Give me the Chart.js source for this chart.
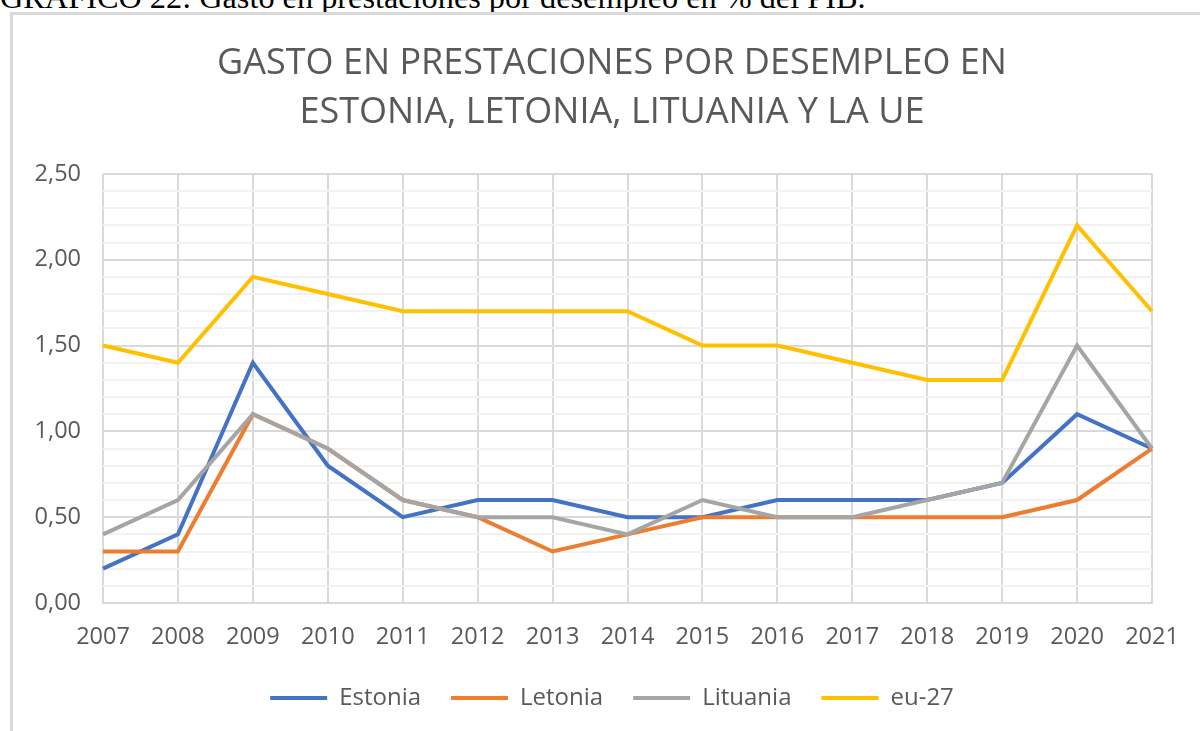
<!DOCTYPE html>
<html lang="es">
<head>
<meta charset="utf-8">
<title>Gasto en prestaciones por desempleo</title>
<script src="https://cdn.jsdelivr.net/npm/chart.js@4/dist/chart.umd.min.js"></script>
<style>
  html, body {
    margin: 0;
    padding: 0;
    background: #fff;
    overflow: hidden;
    width: 1200px;
    height: 731px;
  }
  .caption {
    position: absolute;
    left: 0;
    top: -19px;
    font-family: 'Liberation Serif', 'Times New Roman', serif;
    font-size: 32.3px;
    line-height: 32px;
    color: #000;
    white-space: nowrap;
  }
  .chart-box {
    position: absolute;
    left: 10px;
    top: 12px;
    width: 1204px;
    height: 740px;
    border: 3px solid #d9d9d9;
    box-sizing: border-box;
  }
  .chart-box canvas {
    display: block;
  }
</style>
</head>
<body>
<div class="caption">GRÁFICO 22: Gasto en prestaciones por desempleo en % del PIB.</div>
<div class="chart-box">
  <canvas id="chart" width="1198" height="734"></canvas>
</div>

<script>
const years = ['2007', '2008', '2009', '2010', '2011', '2012', '2013', '2014',
  '2015', '2016', '2017', '2018', '2019', '2020', '2021'];

const estonia  = [0.2, 0.4, 1.4, 0.8, 0.5, 0.6, 0.6, 0.5, 0.5, 0.6, 0.6, 0.6, 0.7, 1.1, 0.9];
const letonia  = [0.3, 0.3, 1.1, 0.9, 0.6, 0.5, 0.3, 0.4, 0.5, 0.5, 0.5, 0.5, 0.5, 0.6, 0.9];
const lituania = [0.4, 0.6, 1.1, 0.9, 0.6, 0.5, 0.5, 0.4, 0.6, 0.5, 0.5, 0.6, 0.7, 1.5, 0.9];
const eu27     = [1.5, 1.4, 1.9, 1.8, 1.7, 1.7, 1.7, 1.7, 1.5, 1.5, 1.4, 1.3, 1.3, 2.2, 1.7];

const seriesNames = ['Estonia', 'Letonia', 'Lituania', 'eu-27'];
const titleLines = ['GASTO EN PRESTACIONES POR DESEMPLEO EN', 'ESTONIA, LETONIA, LITUANIA Y LA UE'];

const TEXT = '#595959';
const FONT = "'Open Sans', 'Noto Sans', sans-serif";
const TICK_SIZE = 23.5;

function makeLine(label, data, color, order) {
  return {
    label: label,
    data: data,
    borderColor: color,
    backgroundColor: color,
    borderWidth: 4,
    pointRadius: 0,
    pointHoverRadius: 0,
    tension: 0,
    order: order, // excel draws the last series on top
  };
}

const isMajor = (v) => Math.round(v * 10) % 5 === 0;

new Chart(document.getElementById('chart'), {
  type: 'line',
  data: {
    labels: years,
    datasets: [
      makeLine(seriesNames[0], estonia, '#4472C4', 3),
      makeLine(seriesNames[1], letonia, '#ED7D31', 2),
      makeLine(seriesNames[2], lituania, '#A5A5A5', 1),
      makeLine(seriesNames[3], eu27, '#FFC000', 0),
    ],
  },
  options: {
    responsive: false,
    animation: false,
    layout: {
      padding: { left: 0, top: 0, right: 0, bottom: 29 },
    },
    plugins: {
      tooltip: { enabled: false },
      title: {
        display: true,
        text: titleLines,
        color: TEXT,
        font: { family: FONT, size: 36, weight: 'normal', lineHeight: 1.36 },
        padding: { top: 24.5, bottom: 36.5 },
      },
      legend: {
        position: 'bottom',
        labels: {
          color: TEXT,
          font: { family: FONT, size: 24 },
          boxWidth: 57,
          boxHeight: 4,
          padding: 30,
          sort: (a, b) => a.datasetIndex - b.datasetIndex,
          generateLabels(chart) {
            const items = Chart.defaults.plugins.legend.labels.generateLabels(chart);
            items.forEach((it) => {
              it.fillStyle = it.strokeStyle;
              it.lineWidth = 0;
            });
            return items;
          },
        },
      },
    },
    scales: {
      x: {
        offset: false,
        grid: {
          color: '#d9d9d9',
          lineWidth: 2,
          drawTicks: false,
        },
        border: { color: '#d9d9d9', width: 2 },
        ticks: {
          color: TEXT,
          font: { family: FONT, size: TICK_SIZE },
          padding: 20,
          maxRotation: 0,
          autoSkip: false,
        },
        afterFit(scale) {
          scale.height = 53;
          scale.paddingRight = 59;
        },
      },
      y: {
        min: 0,
        max: 2.5,
        grid: {
          color: (ctx) => (ctx.tick && isMajor(ctx.tick.value) ? '#d9d9d9' : '#f2f2f2'),
          lineWidth: 2,
          drawTicks: false,
        },
        border: { display: false },
        ticks: {
          stepSize: 0.1,
          autoSkip: false,
          color: TEXT,
          font: { family: FONT, size: TICK_SIZE },
          padding: 22,
          callback: (v) => (isMajor(v) ? v.toFixed(2).replace('.', ',') : ''),
        },
        afterFit(scale) {
          scale.width = 90;
        },
      },
    },
  },
});
</script>
</body>
</html>
